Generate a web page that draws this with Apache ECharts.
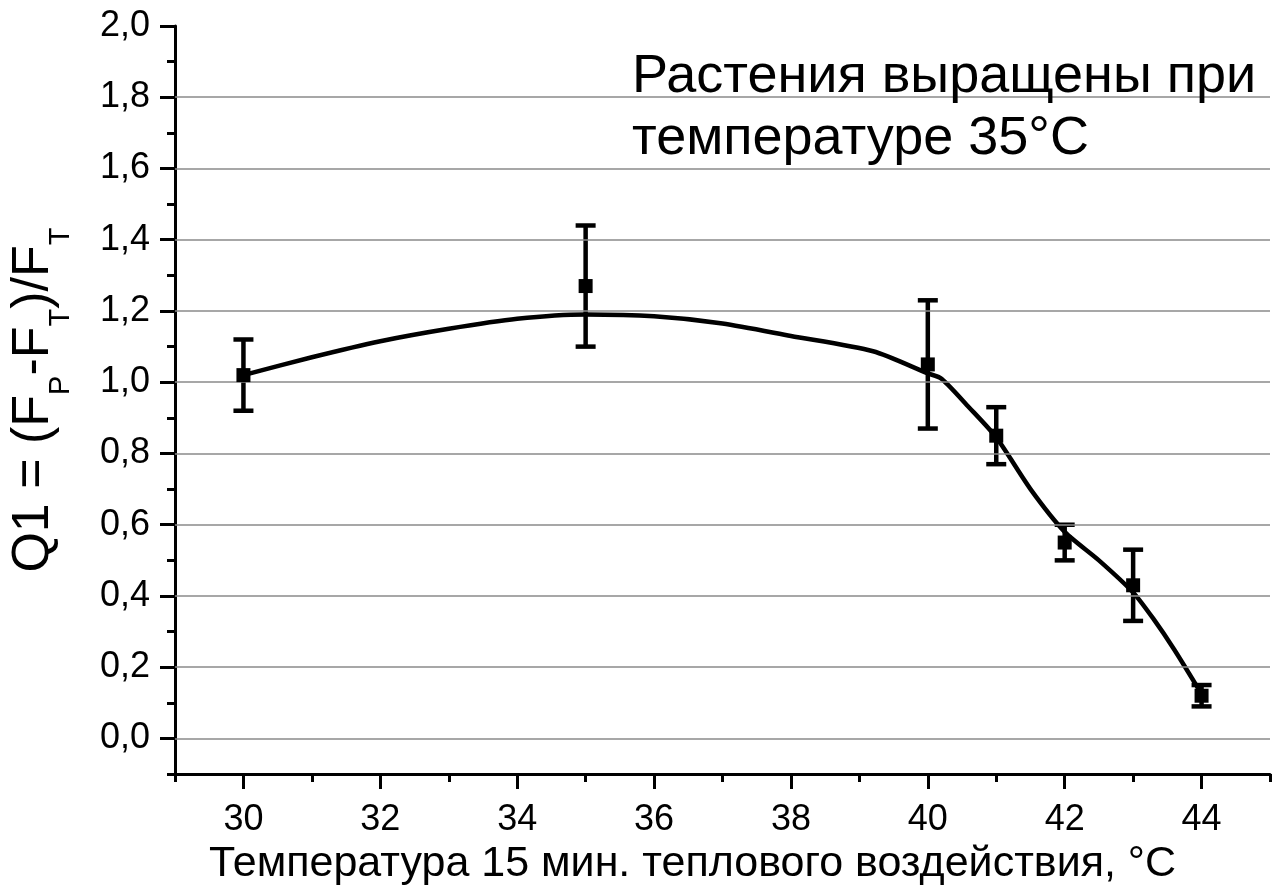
<!DOCTYPE html>
<html>
<head>
<meta charset="utf-8">
<script src="https://cdn.jsdelivr.net/npm/echarts@6/dist/echarts.min.js"></script>
<style>
html,body{margin:0;padding:0;background:#fff;}
#chart{width:1272px;height:891px;}
</style>
</head>
<body>
<div id="chart"></div>
<script>
// ---- data ----
const temps    = [30, 35, 40, 41, 42, 43, 44];
const q1Mean   = [1.02, 1.27, 1.05, 0.85, 0.55, 0.43, 0.12];
const errLow   = [0.92, 1.10, 0.87, 0.77, 0.50, 0.33, 0.09];
const errHigh  = [1.12, 1.44, 1.23, 0.93, 0.60, 0.53, 0.15];

const curveX = [30, 31, 32, 33, 34, 35, 36, 37, 38, 39.2, 40, 40.2, 40.6, 41, 41.5, 42, 42.5, 43, 43.3, 43.6, 44];
const curveY = [1.02, 1.07, 1.115, 1.15, 1.178, 1.19, 1.185, 1.165, 1.13, 1.087, 1.025, 1.01, 0.93, 0.845, 0.70, 0.58, 0.50, 0.41, 0.335, 0.25, 0.125];

const xTicks      = [30, 32, 34, 36, 38, 40, 42, 44];
const xMinorTicks = [29, 31, 33, 35, 37, 39, 41, 43, 45];
const yTicks      = [0, 0.2, 0.4, 0.6, 0.8, 1.0, 1.2, 1.4, 1.6, 1.8, 2.0];
const yMinorTicks = [-0.1, 0.1, 0.3, 0.5, 0.7, 0.9, 1.1, 1.3, 1.5, 1.7, 1.9];
const gridLineValues = [0, 0.2, 0.4, 0.6, 0.8, 1.0, 1.2, 1.4, 1.6, 1.8];

const xTitle = 'Температура 15 мин. теплового воздействия, °C';
const noteLines = ['Растения выращены при', 'температуре 35°C'];

// ---- chart ----
const FONT = '"Liberation Sans", Arial, sans-serif';
const chart = echarts.init(document.getElementById('chart'), null, {renderer: 'canvas'});

const fmt = v => v.toFixed(1).replace('.', ',');

const option = {
  animation: false,
  backgroundColor: '#fff',
  textStyle: {fontFamily: FONT, color: '#000'},
  grid: {left: 172, right: 2, top: 26, bottom: 116, containLabel: false},
  xAxis: [{
    type: 'value', min: 29, max: 45,
    axisLine: {show: true, onZero: false, lineStyle: {color: '#000', width: 3}},
    axisTick: {show: true, customValues: xTicks, length: 15, lineStyle: {color: '#000', width: 3}},
    axisLabel: {customValues: xTicks, fontSize: 36, color: '#000', margin: 28, fontFamily: FONT},
    splitLine: {show: false},
    name: xTitle, nameLocation: 'middle', nameGap: 62,
    nameTextStyle: {fontSize: 43, color: '#000', fontFamily: FONT, padding: [0, 60, 0, 0]}
  }, {
    type: 'value', min: 29, max: 45, position: 'bottom',
    axisLine: {show: false, onZero: false},
    axisTick: {show: true, customValues: xMinorTicks, length: 8, lineStyle: {color: '#000', width: 3}},
    axisLabel: {show: false},
    splitLine: {show: false}
  }],
  yAxis: [{
    type: 'value', min: -0.1, max: 2.0,
    axisLine: {show: true, onZero: false, lineStyle: {color: '#000', width: 3}},
    axisTick: {show: true, customValues: yTicks, length: 15, lineStyle: {color: '#000', width: 3}},
    axisLabel: {customValues: yTicks, fontSize: 36, color: '#000', margin: 25, fontFamily: FONT, formatter: fmt},
    splitLine: {show: false},
    name: '{n|Q1 = (F}{s|P}{n|-F}{s|T}{n|)/F}{s|T}',
    nameLocation: 'middle', nameRotate: 90, nameGap: 100,
    nameTextStyle: {
      color: '#000', fontFamily: FONT,
      rich: {
        n: {fontSize: 52, lineHeight: 82, verticalAlign: 'middle', fontFamily: FONT, color: '#000'},
        s: {fontSize: 29, lineHeight: 82, verticalAlign: 'bottom', fontFamily: FONT, color: '#000'}
      }
    }
  }, {
    type: 'value', min: -0.1, max: 2.0, position: 'left',
    axisLine: {show: false, onZero: false},
    axisTick: {show: true, customValues: yMinorTicks, length: 8, lineStyle: {color: '#000', width: 3}},
    axisLabel: {show: false},
    splitLine: {show: false}
  }],
  graphic: [{
    type: 'text', left: 632, top: 46, z: 10,
    style: {text: noteLines.join('\n'), font: '54px ' + FONT, fill: '#000', lineHeight: 62}
  }],
  series: [{
    type: 'line', name: 'grid', data: [], xAxisIndex: 0, yAxisIndex: 0, z: 1,
    markLine: {
      silent: true, symbol: ['none', 'none'], label: {show: false},
      lineStyle: {color: '#8a8a8a', width: 1.5, type: 'solid'},
      data: gridLineValues.map(v => ({yAxis: v}))
    }
  }, {
    type: 'line', name: 'fit', xAxisIndex: 0, yAxisIndex: 0, z: 3,
    data: curveX.map((x, i) => [x, curveY[i]]),
    showSymbol: false, symbol: 'none', smooth: 0.25,
    lineStyle: {color: '#000', width: 4.5}
  }, {
    type: 'custom', name: 'err', xAxisIndex: 0, yAxisIndex: 0, z: 4,
    data: temps.map((t, i) => [t, errLow[i], errHigh[i]]),
    renderItem: function (params, api) {
      const lo = api.coord([api.value(0), api.value(1)]);
      const hi = api.coord([api.value(0), api.value(2)]);
      const hw = 10;
      const st = {stroke: '#000', lineWidth: 4.5};
      return {
        type: 'group',
        children: [
          {type: 'line', shape: {x1: lo[0], y1: lo[1], x2: hi[0], y2: hi[1]}, style: st},
          {type: 'line', shape: {x1: lo[0] - hw, y1: lo[1], x2: lo[0] + hw, y2: lo[1]}, style: st},
          {type: 'line', shape: {x1: hi[0] - hw, y1: hi[1], x2: hi[0] + hw, y2: hi[1]}, style: st}
        ]
      };
    }
  }, {
    type: 'scatter', name: 'mean', xAxisIndex: 0, yAxisIndex: 0, z: 5,
    data: temps.map((t, i) => [t, q1Mean[i]]),
    symbol: 'rect', symbolSize: 14,
    itemStyle: {color: '#000', opacity: 1}
  }]
};
chart.setOption(option);
</script>
</body>
</html>
